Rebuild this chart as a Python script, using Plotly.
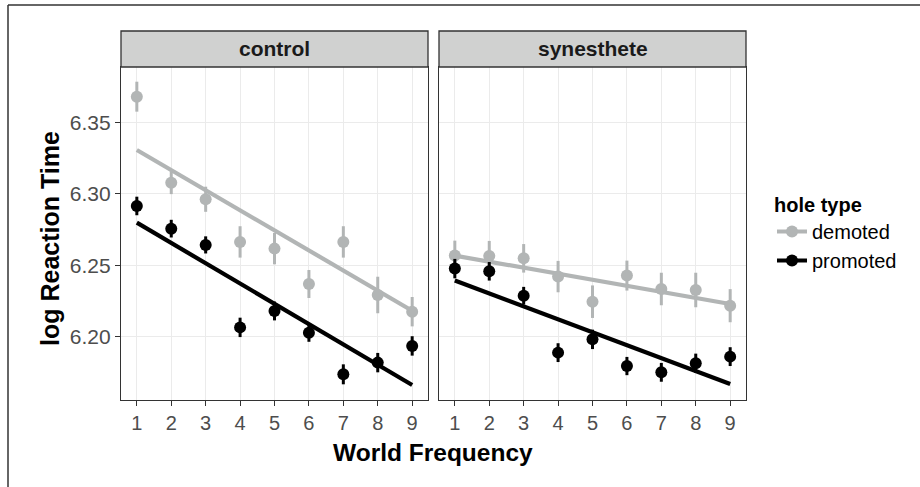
import plotly.graph_objects as go

# ---------------- data ----------------
freq = [1, 2, 3, 4, 5, 6, 7, 8, 9]
panels = ["control", "synesthete"]
groups = ["demoted", "promoted"]

control_demoted = [6.3682, 6.3079, 6.2963, 6.2664, 6.2617, 6.2369, 6.2664, 6.2292, 6.2175]
control_demoted_se = [0.0105, 0.0080, 0.0088, 0.0110, 0.0110, 0.0098, 0.0110, 0.0128, 0.0103]
control_promoted = [6.2916, 6.2757, 6.2643, 6.2065, 6.2180, 6.2028, 6.1736, 6.1818, 6.1935]
control_promoted_se = [0.0065, 0.0062, 0.0060, 0.0068, 0.0066, 0.0064, 0.0070, 0.0068, 0.0068]

syn_demoted = [6.2568, 6.2566, 6.2549, 6.2421, 6.2245, 6.2428, 6.2334, 6.2327, 6.2217]
syn_demoted_se = [0.0105, 0.0105, 0.0100, 0.0110, 0.0114, 0.0105, 0.0114, 0.0121, 0.0116]
syn_promoted = [6.2477, 6.2458, 6.2287, 6.1888, 6.1981, 6.1794, 6.1750, 6.1813, 6.1860]
syn_promoted_se = [0.0068, 0.0065, 0.0062, 0.0066, 0.0068, 0.0064, 0.0066, 0.0068, 0.0066]

# fitted regression line values at the ends of the frequency range
fit_x = [1, 9]
control_demoted_fit = [6.3308, 6.2182]
control_promoted_fit = [6.2799, 6.1661]
syn_demoted_fit = [6.2568, 6.2229]
syn_promoted_fit = [6.2393, 6.1668]

y_ticks = [6.20, 6.25, 6.30, 6.35]
y_tick_labels = ["6.20", "6.25", "6.30", "6.35"]

# ---------------- style ----------------
W, H = 920, 487
FONT = "Liberation Sans, Arial, Helvetica, sans-serif"
GREY = "#b2b5b5"
BLACK = "#000000"
colors = {"demoted": GREY, "promoted": BLACK}

def px_x(p):
    return p / W

def px_y(p):
    return (H - p) / H

panel_top, panel_bot = 67, 400
strip_top = 31
left_dom = [px_x(121), px_x(428)]
right_dom = [px_x(439), px_x(746)]
y_dom = [px_y(panel_bot), px_y(panel_top)]
x_range = [0.54, 9.46]
y_range = [6.1556, 6.389]

series = {
    ("control", "demoted"): (control_demoted, control_demoted_se, control_demoted_fit),
    ("control", "promoted"): (control_promoted, control_promoted_se, control_promoted_fit),
    ("synesthete", "demoted"): (syn_demoted, syn_demoted_se, syn_demoted_fit),
    ("synesthete", "promoted"): (syn_promoted, syn_promoted_se, syn_promoted_fit),
}

fig = go.Figure()
axes = {"control": ("x", "y"), "synesthete": ("x2", "y2")}

# regression lines
for panel in panels:
    xa, ya = axes[panel]
    for g in groups:
        vals, se, fit = series[(panel, g)]
        fig.add_trace(go.Scatter(x=fit_x, y=fit, mode="lines",
                                 line=dict(color=colors[g], width=4.2),
                                 xaxis=xa, yaxis=ya, showlegend=False,
                                 hoverinfo="skip"))
# point ranges
for panel in panels:
    xa, ya = axes[panel]
    for g in groups:
        vals, se, fit = series[(panel, g)]
        fig.add_trace(go.Scatter(x=freq, y=vals, mode="markers",
                                 marker=dict(color=colors[g], size=12, line=dict(width=0)),
                                 error_y=dict(type="data", array=se, visible=True,
                                              color=colors[g], thickness=3, width=0),
                                 xaxis=xa, yaxis=ya, showlegend=False))
# legend entries
for g in groups:
    fig.add_trace(go.Scatter(x=[None], y=[None], mode="lines+markers", name=g,
                             line=dict(color=colors[g], width=4),
                             marker=dict(color=colors[g], size=12),
                             xaxis="x", yaxis="y", showlegend=True))

grid = "#ebebeb"
common_x = dict(range=x_range, tickmode="array", tickvals=freq,
                ticktext=[str(v) for v in freq], showgrid=True, gridcolor=grid,
                gridwidth=1.2, zeroline=False, ticks="outside", ticklen=5,
                tickwidth=1.2, tickcolor="#333333", showline=True,
                linecolor="#333333", linewidth=1.3, mirror=True,
                tickfont=dict(family=FONT, size=20, color="#4d4d4d"),
                fixedrange=True)
common_y = dict(range=y_range, tickmode="array", tickvals=y_ticks,
                showgrid=True, gridcolor=grid, gridwidth=1.2, zeroline=False,
                showline=True, linecolor="#333333", linewidth=1.3, mirror=True,
                domain=y_dom, fixedrange=True)

fig.update_layout(
    xaxis=dict(common_x, domain=left_dom, anchor="y"),
    xaxis2=dict(common_x, domain=right_dom, anchor="y2"),
    yaxis=dict(common_y, anchor="x", ticktext=y_tick_labels, ticks="outside",
               ticklen=5, tickwidth=1.2, tickcolor="#333333",
               tickfont=dict(family=FONT, size=21, color="#4d4d4d")),
    yaxis2=dict(common_y, anchor="x2", showticklabels=False, ticks=""),
)

shapes = []
# strips
for dom in (left_dom, right_dom):
    shapes.append(dict(type="rect", xref="paper", yref="paper",
                       x0=dom[0], x1=dom[1], y0=px_y(panel_top), y1=px_y(strip_top),
                       fillcolor="#d0d1d0", line=dict(color="#333333", width=1.3),
                       layer="above"))
# outer frame (top and left edges visible)
shapes.append(dict(type="line", xref="paper", yref="paper",
                   x0=px_x(8), x1=1.0, y0=px_y(5), y1=px_y(5),
                   line=dict(color="#333333", width=1.5)))
shapes.append(dict(type="line", xref="paper", yref="paper",
                   x0=px_x(8), x1=px_x(8), y0=0.0, y1=px_y(5),
                   line=dict(color="#333333", width=1.5)))

annotations = []
for panel, dom in zip(panels, (left_dom, right_dom)):
    annotations.append(dict(text="<b>%s</b>" % panel, xref="paper", yref="paper",
                            x=(dom[0] + dom[1]) / 2, y=px_y((strip_top + panel_top) / 2),
                            xanchor="center", yanchor="middle", showarrow=False,
                            font=dict(family=FONT, size=21, color="#1a1a1a")))
annotations.append(dict(text="<b>World Frequency</b>", xref="paper", yref="paper",
                        x=px_x(433), y=px_y(452), xanchor="center", yanchor="middle",
                        showarrow=False, font=dict(family=FONT, size=24.5, color="#000000")))
annotations.append(dict(text="<b>log Reaction Time</b>", xref="paper", yref="paper",
                        x=px_x(50), y=px_y(239), xanchor="center", yanchor="middle",
                        textangle=-90, showarrow=False,
                        font=dict(family=FONT, size=25, color="#000000")))

fig.update_layout(
    width=W, height=H, autosize=False,
    margin=dict(l=0, r=0, t=0, b=0),
    paper_bgcolor="white", plot_bgcolor="white",
    shapes=shapes, annotations=annotations,
    showlegend=True,
    legend=dict(title=dict(text="<b>hole type</b>", font=dict(family=FONT, size=20, color="#000")),
                x=px_x(772), y=px_y(186), xanchor="left", yanchor="top",
                font=dict(family=FONT, size=20, color="#000"),
                bgcolor="rgba(0,0,0,0)", tracegroupgap=0, itemwidth=30),
    font=dict(family=FONT),
)

fig.write_html("out.html", config={"displayModeBar": False},
               post_script="document.body.style.margin='0';document.body.style.overflow='hidden';")
